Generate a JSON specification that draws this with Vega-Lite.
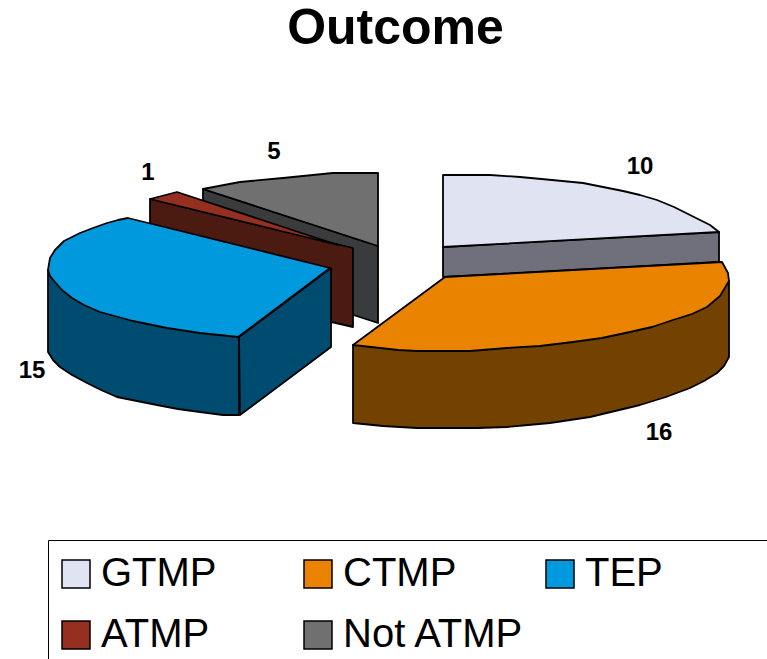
{
  "$schema": "https://vega.github.io/schema/vega-lite/v6.json",
  "width": 767,
  "height": 599,
  "padding": {"left": 0, "right": 0, "top": 60, "bottom": 0},
  "autosize": {"type": "none"},
  "background": "white",
  "view": {"stroke": null},
  "title": {
    "text": "Outcome",
    "font": "Liberation Sans",
    "fontSize": 50,
    "fontWeight": "bold",
    "color": "black",
    "anchor": "middle",
    "baseline": "alphabetic",
    "dx": 12,
    "dy": 48,
    "offset": 14
  },
  "datasets": {
    "sides": [
      {"slice": "Not ATMP", "piece": "n1", "i": 0, "x": 203, "y": 189},
      {"slice": "Not ATMP", "piece": "n1", "i": 1, "x": 378, "y": 246},
      {"slice": "Not ATMP", "piece": "n1", "i": 2, "x": 378, "y": 323},
      {"slice": "Not ATMP", "piece": "n1", "i": 3, "x": 203, "y": 266},
      {"slice": "ATMP", "piece": "a1", "i": 0, "x": 150, "y": 199},
      {"slice": "ATMP", "piece": "a1", "i": 1, "x": 353, "y": 248},
      {"slice": "ATMP", "piece": "a1", "i": 2, "x": 353, "y": 327},
      {"slice": "ATMP", "piece": "a1", "i": 3, "x": 150, "y": 280},
      {"slice": "TEP", "piece": "t1", "i": 0, "x": 48, "y": 270},
      {"slice": "TEP", "piece": "t1", "i": 1, "x": 48, "y": 352},
      {"slice": "TEP", "piece": "t1", "i": 2, "x": 53, "y": 360},
      {"slice": "TEP", "piece": "t1", "i": 3, "x": 60, "y": 367},
      {"slice": "TEP", "piece": "t1", "i": 4, "x": 72, "y": 375},
      {"slice": "TEP", "piece": "t1", "i": 5, "x": 87, "y": 383},
      {"slice": "TEP", "piece": "t1", "i": 6, "x": 101, "y": 390},
      {"slice": "TEP", "piece": "t1", "i": 7, "x": 117, "y": 397},
      {"slice": "TEP", "piece": "t1", "i": 8, "x": 137, "y": 401},
      {"slice": "TEP", "piece": "t1", "i": 9, "x": 157, "y": 405},
      {"slice": "TEP", "piece": "t1", "i": 10, "x": 178, "y": 409},
      {"slice": "TEP", "piece": "t1", "i": 11, "x": 200, "y": 412},
      {"slice": "TEP", "piece": "t1", "i": 12, "x": 223, "y": 415},
      {"slice": "TEP", "piece": "t1", "i": 13, "x": 239, "y": 415},
      {"slice": "TEP", "piece": "t1", "i": 14, "x": 239, "y": 337},
      {"slice": "TEP", "piece": "t2", "i": 0, "x": 239, "y": 337},
      {"slice": "TEP", "piece": "t2", "i": 1, "x": 331, "y": 268},
      {"slice": "TEP", "piece": "t2", "i": 2, "x": 331, "y": 347},
      {"slice": "TEP", "piece": "t2", "i": 3, "x": 240, "y": 415},
      {"slice": "GTMP", "piece": "g1", "i": 0, "x": 443, "y": 247},
      {"slice": "GTMP", "piece": "g1", "i": 1, "x": 719, "y": 232},
      {"slice": "GTMP", "piece": "g1", "i": 2, "x": 719, "y": 262},
      {"slice": "GTMP", "piece": "g1", "i": 3, "x": 443, "y": 277},
      {"slice": "CTMP", "piece": "c1", "i": 0, "x": 353, "y": 345},
      {"slice": "CTMP", "piece": "c1", "i": 1, "x": 729, "y": 281},
      {"slice": "CTMP", "piece": "c1", "i": 2, "x": 729, "y": 357},
      {"slice": "CTMP", "piece": "c1", "i": 3, "x": 724, "y": 366},
      {"slice": "CTMP", "piece": "c1", "i": 4, "x": 717, "y": 373},
      {"slice": "CTMP", "piece": "c1", "i": 5, "x": 704, "y": 381},
      {"slice": "CTMP", "piece": "c1", "i": 6, "x": 690, "y": 388},
      {"slice": "CTMP", "piece": "c1", "i": 7, "x": 666, "y": 397},
      {"slice": "CTMP", "piece": "c1", "i": 8, "x": 640, "y": 405},
      {"slice": "CTMP", "piece": "c1", "i": 9, "x": 615, "y": 411},
      {"slice": "CTMP", "piece": "c1", "i": 10, "x": 590, "y": 417},
      {"slice": "CTMP", "piece": "c1", "i": 11, "x": 570, "y": 420},
      {"slice": "CTMP", "piece": "c1", "i": 12, "x": 550, "y": 423},
      {"slice": "CTMP", "piece": "c1", "i": 13, "x": 528, "y": 425},
      {"slice": "CTMP", "piece": "c1", "i": 14, "x": 507, "y": 427},
      {"slice": "CTMP", "piece": "c1", "i": 15, "x": 477, "y": 428},
      {"slice": "CTMP", "piece": "c1", "i": 16, "x": 417, "y": 428},
      {"slice": "CTMP", "piece": "c1", "i": 17, "x": 383, "y": 426},
      {"slice": "CTMP", "piece": "c1", "i": 18, "x": 353, "y": 423}
    ],
    "tops": [
      {"slice": "Not ATMP", "i": 0, "x": 203, "y": 189},
      {"slice": "Not ATMP", "i": 1, "x": 240, "y": 182},
      {"slice": "Not ATMP", "i": 2, "x": 283, "y": 178},
      {"slice": "Not ATMP", "i": 3, "x": 333, "y": 173},
      {"slice": "Not ATMP", "i": 4, "x": 378, "y": 173},
      {"slice": "Not ATMP", "i": 5, "x": 378, "y": 246},
      {"slice": "ATMP", "i": 0, "x": 150, "y": 199},
      {"slice": "ATMP", "i": 1, "x": 177, "y": 192},
      {"slice": "ATMP", "i": 2, "x": 338, "y": 245},
      {"slice": "TEP", "i": 0, "x": 128, "y": 218},
      {"slice": "TEP", "i": 1, "x": 330, "y": 268},
      {"slice": "TEP", "i": 2, "x": 238, "y": 337},
      {"slice": "TEP", "i": 3, "x": 200, "y": 333},
      {"slice": "TEP", "i": 4, "x": 167, "y": 328},
      {"slice": "TEP", "i": 5, "x": 133, "y": 321},
      {"slice": "TEP", "i": 6, "x": 100, "y": 312},
      {"slice": "TEP", "i": 7, "x": 84, "y": 305},
      {"slice": "TEP", "i": 8, "x": 72, "y": 298},
      {"slice": "TEP", "i": 9, "x": 62, "y": 290},
      {"slice": "TEP", "i": 10, "x": 55, "y": 282},
      {"slice": "TEP", "i": 11, "x": 50, "y": 276},
      {"slice": "TEP", "i": 12, "x": 48, "y": 270},
      {"slice": "TEP", "i": 13, "x": 50, "y": 258},
      {"slice": "TEP", "i": 14, "x": 55, "y": 250},
      {"slice": "TEP", "i": 15, "x": 64, "y": 241},
      {"slice": "TEP", "i": 16, "x": 80, "y": 233},
      {"slice": "TEP", "i": 17, "x": 93, "y": 228},
      {"slice": "TEP", "i": 18, "x": 107, "y": 223},
      {"slice": "TEP", "i": 19, "x": 118, "y": 220},
      {"slice": "GTMP", "i": 0, "x": 443, "y": 175},
      {"slice": "GTMP", "i": 1, "x": 490, "y": 175},
      {"slice": "GTMP", "i": 2, "x": 520, "y": 177},
      {"slice": "GTMP", "i": 3, "x": 552, "y": 180},
      {"slice": "GTMP", "i": 4, "x": 583, "y": 183},
      {"slice": "GTMP", "i": 5, "x": 603, "y": 187},
      {"slice": "GTMP", "i": 6, "x": 623, "y": 191},
      {"slice": "GTMP", "i": 7, "x": 640, "y": 195},
      {"slice": "GTMP", "i": 8, "x": 657, "y": 200},
      {"slice": "GTMP", "i": 9, "x": 674, "y": 207},
      {"slice": "GTMP", "i": 10, "x": 690, "y": 215},
      {"slice": "GTMP", "i": 11, "x": 710, "y": 225},
      {"slice": "GTMP", "i": 12, "x": 719, "y": 232},
      {"slice": "GTMP", "i": 13, "x": 443, "y": 247},
      {"slice": "CTMP", "i": 0, "x": 445, "y": 277},
      {"slice": "CTMP", "i": 1, "x": 722, "y": 262},
      {"slice": "CTMP", "i": 2, "x": 728, "y": 273},
      {"slice": "CTMP", "i": 3, "x": 729, "y": 281},
      {"slice": "CTMP", "i": 4, "x": 720, "y": 296},
      {"slice": "CTMP", "i": 5, "x": 707, "y": 307},
      {"slice": "CTMP", "i": 6, "x": 692, "y": 314},
      {"slice": "CTMP", "i": 7, "x": 673, "y": 320},
      {"slice": "CTMP", "i": 8, "x": 652, "y": 327},
      {"slice": "CTMP", "i": 9, "x": 630, "y": 332},
      {"slice": "CTMP", "i": 10, "x": 602, "y": 338},
      {"slice": "CTMP", "i": 11, "x": 573, "y": 342},
      {"slice": "CTMP", "i": 12, "x": 540, "y": 346},
      {"slice": "CTMP", "i": 13, "x": 507, "y": 348},
      {"slice": "CTMP", "i": 14, "x": 470, "y": 351},
      {"slice": "CTMP", "i": 15, "x": 440, "y": 351},
      {"slice": "CTMP", "i": 16, "x": 417, "y": 351},
      {"slice": "CTMP", "i": 17, "x": 398, "y": 350},
      {"slice": "CTMP", "i": 18, "x": 380, "y": 348},
      {"slice": "CTMP", "i": 19, "x": 353, "y": 345}
    ],
    "counts": [
      {"slice": "GTMP", "count": 10, "x": 640, "y": 167},
      {"slice": "CTMP", "count": 16, "x": 659, "y": 433},
      {"slice": "TEP", "count": 15, "x": 32, "y": 371},
      {"slice": "ATMP", "count": 1, "x": 148, "y": 173},
      {"slice": "Not ATMP", "count": 5, "x": 274, "y": 152}
    ]
  },
  "encoding": {
    "x": {"field": "x", "type": "quantitative", "axis": null, "scale": {"domain": [0, 767], "nice": false, "zero": false}},
    "y": {"field": "y", "type": "quantitative", "axis": null, "scale": {"domain": [659, 60], "nice": false, "zero": false}}
  },
  "layer": [
    {
      "data": {"name": "sides"},
      "mark": {"type": "line", "interpolate": "linear-closed", "stroke": "black", "strokeWidth": 1.8, "strokeJoin": "round"},
      "encoding": {
        "order": {"field": "i", "type": "quantitative"},
        "detail": {"field": "piece"},
        "fill": {
          "field": "slice",
          "type": "nominal",
          "legend": null,
          "scale": {
            "domain": ["GTMP", "CTMP", "TEP", "ATMP", "Not ATMP"],
            "range": ["#6f707b", "#744200", "#004b70", "#4b1a10", "#3a3b3c"]
          }
        }
      }
    },
    {
      "data": {"name": "tops"},
      "mark": {"type": "line", "interpolate": "linear-closed", "stroke": "black", "strokeWidth": 1.8, "strokeJoin": "round"},
      "encoding": {
        "order": {"field": "i", "type": "quantitative"},
        "fill": {
          "field": "slice",
          "type": "nominal",
          "sort": null,
          "scale": {
            "domain": ["GTMP", "CTMP", "TEP", "ATMP", "Not ATMP"],
            "range": ["#e0e3f2", "#e98300", "#0099dd", "#952f20", "#707070"]
          },
          "legend": {
            "title": " ",
            "titleOrient": "right",
            "titlePadding": 90,
            "orient": "none",
            "legendX": 48,
            "legendY": 480,
            "columns": 3,
            "direction": "horizontal",
            "gridAlign": "all",
            "columnPadding": 18,
            "rowPadding": 21,
            "padding": 14,
            "strokeColor": "black",
            "symbolType": "square",
            "symbolSize": 784,
            "symbolOffset": -6,
            "symbolStrokeColor": "black",
            "symbolStrokeWidth": 1.5,
            "symbolOpacity": 1,
            "labelFont": "Liberation Sans",
            "labelFontSize": 40,
            "labelColor": "black",
            "labelOffset": 5,
            "labelLimit": 400
          }
        }
      }
    },
    {
      "data": {"name": "counts"},
      "mark": {"type": "text", "font": "Liberation Sans", "fontWeight": "bold", "fontSize": 24, "color": "black", "align": "center", "baseline": "middle"},
      "encoding": {
        "text": {"field": "count", "type": "quantitative"}
      }
    }
  ],
  "resolve": {"scale": {"fill": "independent"}}
}
